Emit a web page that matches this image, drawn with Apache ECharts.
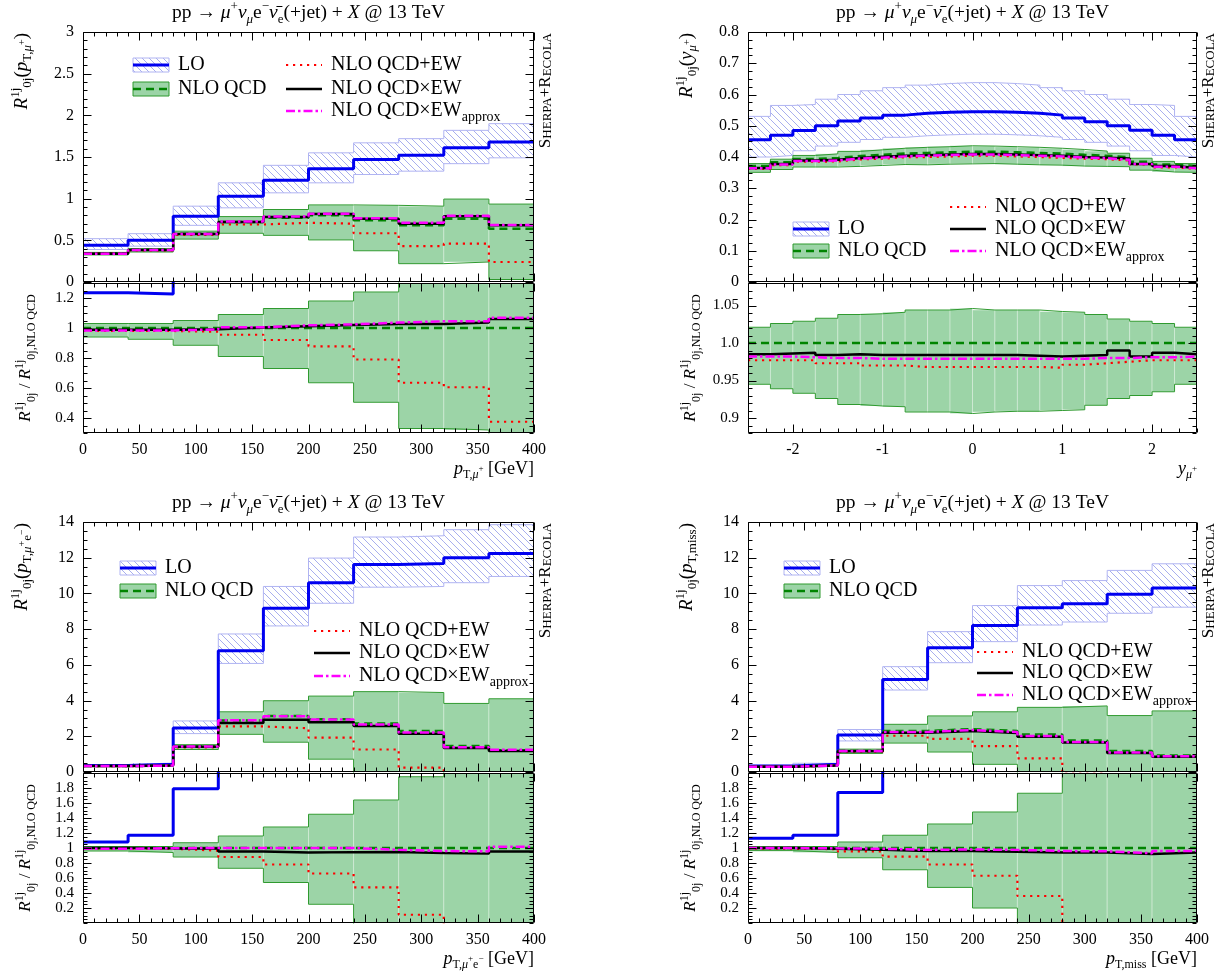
<!DOCTYPE html>
<html><head><meta charset="utf-8">
<script src="https://cdn.jsdelivr.net/npm/echarts@6/dist/echarts.min.js"></script>
<style>html,body{margin:0;padding:0;background:#fff}#c{width:1223px;height:979px}</style>
</head><body><div id="c"></div>
<script>
// ---------------- DATA ----------------
const ptEdges = [0, 40, 80, 120, 160, 200, 240, 280, 320, 360, 400];
const yEdges = [-2.5, -2.25, -2, -1.75, -1.5, -1.25, -1, -0.75, -0.5, -0.25, 0, 0.25, 0.5, 0.75, 1, 1.25, 1.5, 1.75, 2, 2.25, 2.5];

const ptTicks = [0, 50, 100, 150, 200, 250, 300, 350, 400];
const ptTickLabels = ['0', '50', '100', '150', '200', '250', '300', '350', '400'];
const yTicks = [-2, -1, 0, 1, 2];
const yTickLabels = ['-2', '-1', '0', '1', '2'];

const A_yTicks = [0, 0.5, 1, 1.5, 2, 2.5, 3];
const A_yLabels = ['0', '0.5', '1', '1.5', '2', '2.5', '3'];
const A_rTicks = [0.4, 0.6, 0.8, 1, 1.2];
const A_rLabels = ['0.4', '0.6', '0.8', '1', '1.2'];
const B_yTicks = [0, 0.1, 0.2, 0.3, 0.4, 0.5, 0.6, 0.7, 0.8];
const B_yLabels = ['0', '0.1', '0.2', '0.3', '0.4', '0.5', '0.6', '0.7', '0.8'];
const B_rTicks = [0.9, 0.95, 1.0, 1.05];
const B_rLabels = ['0.9', '0.95', '1.0', '1.05'];
const C_yTicks = [0, 2, 4, 6, 8, 10, 12, 14];
const C_yLabels = ['0', '2', '4', '6', '8', '10', '12', '14'];
const C_rTicks = [0.2, 0.4, 0.6, 0.8, 1, 1.2, 1.4, 1.6, 1.8];
const C_rLabels = ['0.2', '0.4', '0.6', '0.8', '1', '1.2', '1.4', '1.6', '1.8'];

// Panel A: p_T,mu+
const A_LO    = [0.44, 0.50, 0.79, 1.03, 1.22, 1.36, 1.47, 1.52, 1.61, 1.68];
const A_LO_up = [0.52, 0.58, 0.91, 1.19, 1.40, 1.55, 1.67, 1.72, 1.82, 1.90];
const A_LO_dn = [0.39, 0.43, 0.68, 0.89, 1.07, 1.19, 1.29, 1.33, 1.42, 1.49];
const A_NLO    = [0.345, 0.39, 0.58, 0.72, 0.77, 0.80, 0.74, 0.68, 0.76, 0.64];
const A_NLO_up = [0.355, 0.40, 0.61, 0.785, 0.87, 0.925, 0.92, 0.91, 0.995, 0.935];
const A_NLO_dn = [0.325, 0.36, 0.515, 0.585, 0.56, 0.505, 0.375, 0.22, 0.24, 0.03];
const A_ADD = [0.34, 0.38, 0.565, 0.69, 0.71, 0.70, 0.585, 0.43, 0.46, 0.24];
const A_MUL = [0.34, 0.385, 0.575, 0.72, 0.78, 0.815, 0.76, 0.70, 0.79, 0.68];
const A_APX = [0.34, 0.385, 0.575, 0.725, 0.785, 0.82, 0.765, 0.71, 0.795, 0.685];
const A_rLO = [1.235, 1.227, 1.36, 1.43, 1.58, 1.70, 1.99, 2.24, 2.12, 2.63];
const A_rNLO = [1, 1, 1, 1, 1, 1, 1, 1, 1, 1];
const A_rNLO_up = [1.03, 1.03, 1.05, 1.09, 1.13, 1.18, 1.24, 1.34, 1.32, 1.46];
const A_rNLO_dn = [0.94, 0.925, 0.885, 0.81, 0.73, 0.635, 0.505, 0.33, 0.32, 0.05];
const A_rADD = [0.98, 0.98, 0.975, 0.955, 0.92, 0.878, 0.79, 0.635, 0.605, 0.375];
const A_rMUL = [0.988, 0.988, 0.992, 1.003, 1.012, 1.02, 1.027, 1.027, 1.037, 1.06];
const A_rAPX = [0.983, 0.984, 0.99, 1.005, 1.018, 1.024, 1.036, 1.045, 1.045, 1.068];

// Panel B: y_mu+
const B_LO    = [0.455, 0.47, 0.485, 0.50, 0.515, 0.525, 0.534, 0.540, 0.543, 0.545, 0.545, 0.543, 0.540, 0.534, 0.525, 0.513, 0.50, 0.486, 0.47, 0.455];
const B_LO_up = [0.53, 0.565, 0.568, 0.585, 0.60, 0.612, 0.622, 0.63, 0.635, 0.638, 0.638, 0.635, 0.63, 0.622, 0.612, 0.60, 0.585, 0.568, 0.565, 0.53];
const B_LO_dn = [0.40, 0.405, 0.42, 0.435, 0.447, 0.456, 0.463, 0.468, 0.471, 0.473, 0.473, 0.471, 0.468, 0.463, 0.456, 0.447, 0.435, 0.42, 0.405, 0.40];
const B_NLO    = [0.371, 0.383, 0.394, 0.397, 0.403, 0.407, 0.411, 0.413, 0.415, 0.417, 0.417, 0.415, 0.413, 0.411, 0.407, 0.404, 0.399, 0.385, 0.376, 0.371];
const B_NLO_up = [0.379, 0.393, 0.405, 0.41, 0.418, 0.423, 0.428, 0.431, 0.433, 0.436, 0.435, 0.433, 0.431, 0.428, 0.424, 0.419, 0.412, 0.396, 0.386, 0.379];
const B_NLO_dn = [0.351, 0.36, 0.368, 0.368, 0.37, 0.373, 0.376, 0.375, 0.377, 0.378, 0.379, 0.377, 0.375, 0.374, 0.371, 0.37, 0.369, 0.358, 0.352, 0.351];
const B_ADD = [0.362, 0.374, 0.385, 0.386, 0.392, 0.395, 0.399, 0.40, 0.402, 0.404, 0.404, 0.402, 0.40, 0.397, 0.395, 0.393, 0.389, 0.376, 0.367, 0.362];
const B_MUL = [0.365, 0.378, 0.389, 0.391, 0.397, 0.401, 0.404, 0.406, 0.408, 0.41, 0.41, 0.408, 0.406, 0.404, 0.40, 0.398, 0.395, 0.378, 0.371, 0.365];
const B_APX = [0.364, 0.376, 0.387, 0.389, 0.395, 0.398, 0.402, 0.404, 0.406, 0.408, 0.408, 0.406, 0.404, 0.402, 0.398, 0.396, 0.391, 0.378, 0.369, 0.364];
const B_rLO = [1.226, 1.227, 1.231, 1.259, 1.278, 1.29, 1.299, 1.308, 1.308, 1.307, 1.307, 1.308, 1.307, 1.299, 1.29, 1.27, 1.253, 1.262, 1.25, 1.226];
const B_rNLO = [1, 1, 1, 1, 1, 1, 1, 1, 1, 1, 1, 1, 1, 1, 1, 1, 1, 1, 1, 1];
const B_rNLO_up = [1.021, 1.026, 1.029, 1.033, 1.038, 1.039, 1.041, 1.044, 1.044, 1.046, 1.044, 1.044, 1.044, 1.042, 1.041, 1.038, 1.032, 1.029, 1.026, 1.021];
const B_rNLO_dn = [0.945, 0.939, 0.933, 0.926, 0.918, 0.916, 0.915, 0.908, 0.908, 0.906, 0.908, 0.909, 0.909, 0.91, 0.911, 0.917, 0.926, 0.93, 0.935, 0.945];
const B_rADD = [0.977, 0.977, 0.977, 0.973, 0.973, 0.97, 0.97, 0.968, 0.968, 0.968, 0.968, 0.968, 0.968, 0.967, 0.971, 0.973, 0.975, 0.977, 0.977, 0.977];
const B_rMUL = [0.985, 0.986, 0.987, 0.984, 0.985, 0.984, 0.984, 0.984, 0.984, 0.984, 0.984, 0.984, 0.983, 0.982, 0.983, 0.984, 0.99, 0.982, 0.987, 0.985];
const B_rAPX = [0.982, 0.982, 0.981, 0.98, 0.98, 0.979, 0.979, 0.979, 0.979, 0.979, 0.979, 0.979, 0.979, 0.979, 0.979, 0.98, 0.98, 0.981, 0.981, 0.982];

// Panel C: p_T,mu+e-
const C_LO    = [0.37, 0.43, 2.47, 6.79, 9.17, 10.6, 11.62, 11.68, 12.0, 12.24];
const C_LO_up = [0.42, 0.50, 2.86, 7.73, 10.39, 11.98, 13.16, 13.23, 13.57, 13.85];
const C_LO_dn = [0.32, 0.37, 2.15, 6.08, 8.18, 9.45, 10.35, 10.39, 10.6, 10.95];
const C_NLO    = [0.33, 0.36, 1.43, 2.89, 3.13, 2.95, 2.72, 2.30, 1.45, 1.22];
const C_NLO_up = [0.34, 0.37, 1.53, 3.37, 3.99, 4.25, 4.50, 4.45, 3.84, 4.10];
const C_NLO_dn = [0.32, 0.34, 1.26, 2.11, 1.67, 0.72, -0.3, -1.0, -1.5, -1.4];
const C_ADD = [0.33, 0.355, 1.38, 2.55, 2.45, 1.93, 1.26, 0.24, -0.5, -0.6];
const C_MUL = [0.33, 0.36, 1.42, 2.75, 2.93, 2.78, 2.58, 2.14, 1.35, 1.17];
const C_APX = [0.33, 0.36, 1.43, 2.90, 3.12, 2.94, 2.66, 2.21, 1.39, 1.24];
const C_rLO = [1.08, 1.17, 1.79, 2.35, 2.93, 3.6, 4.27, 5.08, 8.3, 10.0];
const C_rNLO = [1, 1, 1, 1, 1, 1, 1, 1, 1, 1];
const C_rNLO_up = [1.02, 1.02, 1.07, 1.16, 1.28, 1.45, 1.64, 1.95, 2.65, 3.35];
const C_rNLO_dn = [0.96, 0.94, 0.88, 0.73, 0.54, 0.25, -0.1, -0.45, -1.0, -1.2];
const C_rADD = [0.995, 0.99, 0.965, 0.88, 0.78, 0.66, 0.475, 0.11, -0.35, -0.5];
const C_rMUL = [1.0, 0.995, 0.995, 0.952, 0.94, 0.945, 0.948, 0.933, 0.925, 0.955];
const C_rAPX = [0.99, 0.997, 1.0, 1.0, 1.0, 1.0, 0.975, 0.96, 0.955, 1.018];

// Panel D: p_T,miss
const D_LO    = [0.33, 0.43, 2.07, 5.18, 6.96, 8.20, 9.20, 9.42, 9.95, 10.30];
const D_LO_up = [0.37, 0.49, 2.38, 5.90, 7.86, 9.32, 10.44, 10.72, 11.29, 11.66];
const D_LO_dn = [0.29, 0.37, 1.74, 4.59, 6.12, 7.30, 8.23, 8.40, 8.89, 9.23];
const D_NLO    = [0.30, 0.37, 1.19, 2.30, 2.40, 2.30, 2.10, 1.76, 1.17, 0.92];
const D_NLO_up = [0.31, 0.38, 1.28, 2.67, 3.14, 3.37, 3.62, 3.70, 3.16, 3.42];
const D_NLO_dn = [0.29, 0.35, 1.04, 1.62, 1.12, 0.43, -0.4, -1.0, -1.3, -1.2];
const D_ADD = [0.30, 0.365, 1.14, 2.03, 1.86, 1.45, 0.76, -0.1, -0.4, -0.5];
const D_MUL = [0.30, 0.365, 1.16, 2.20, 2.30, 2.19, 1.97, 1.65, 1.07, 0.86];
const D_APX = [0.30, 0.368, 1.17, 2.24, 2.35, 2.24, 2.02, 1.68, 1.09, 0.88];
const D_rLO = [1.13, 1.17, 1.74, 2.25, 2.9, 3.56, 4.4, 5.35, 8.5, 11.2];
const D_rNLO = [1, 1, 1, 1, 1, 1, 1, 1, 1, 1];
const D_rNLO_up = [1.02, 1.02, 1.08, 1.17, 1.32, 1.48, 1.73, 2.12, 2.7, 3.7];
const D_rNLO_dn = [0.965, 0.94, 0.87, 0.71, 0.475, 0.2, -0.2, -0.55, -1.1, -1.3];
const D_rADD = [0.99, 0.985, 0.955, 0.885, 0.78, 0.63, 0.36, -0.06, -0.35, -0.55];
const D_rMUL = [1.0, 0.99, 0.975, 0.96, 0.96, 0.95, 0.94, 0.94, 0.92, 0.94];
const D_rAPX = [1.0, 0.995, 0.99, 0.975, 0.98, 0.975, 0.96, 0.955, 0.93, 0.96];

// ---------------- STYLE ----------------
const FONT = '"Liberation Serif","DejaVu Serif",serif';
const COL_LO = '#0000f0', COL_LO_EDGE = '#b0b4f2', COL_HATCH = '#a8aeee';
const COL_GFILL = 'rgba(8,148,35,0.40)', COL_GEDGE = '#2f9a2f', COL_NLO = '#008400';
const COL_ADD = '#ff0000', COL_MUL = '#000000', COL_APX = '#ff00ff';
const ST = {
  LO:  {color: COL_LO, width: 3},
  NLO: {color: COL_NLO, width: 2.5, type: [8, 5]},
  ADD: {color: COL_ADD, width: 2.2, type: [2.2, 4.8]},
  MUL: {color: COL_MUL, width: 2.5},
  APX: {color: COL_APX, width: 2.5, type: [9, 3, 2.5, 3]}
};

const hatchCanvas = (function () {
  const s = 7, c = document.createElement('canvas');
  c.width = s; c.height = s;
  const g = c.getContext('2d');
  g.strokeStyle = COL_HATCH; g.lineWidth = 1;
  g.beginPath();
  g.moveTo(0, 0); g.lineTo(s, s);
  g.moveTo(-1, s - 1); g.lineTo(1, s + 1);
  g.moveTo(s - 1, -1); g.lineTo(s + 1, 1);
  g.stroke();
  return c;
})();
const hatchFill = {image: hatchCanvas, repeat: 'repeat'};

function rich(fs) {
  const s = Math.round(fs * 0.68), ss = Math.round(fs * 0.52);
  return {
    n: {fontFamily: FONT, fontSize: fs, fill: '#000'},
    i: {fontFamily: FONT, fontSize: fs, fontStyle: 'italic', fill: '#000'},
    sup: {fontFamily: FONT, fontSize: s, verticalAlign: 'top', lineHeight: s, fill: '#000'},
    sub: {fontFamily: FONT, fontSize: s, verticalAlign: 'bottom', lineHeight: s, fill: '#000'},
    isub: {fontFamily: FONT, fontSize: s, fontStyle: 'italic', verticalAlign: 'bottom', lineHeight: s, fill: '#000'},
    ssup: {fontFamily: FONT, fontSize: ss, verticalAlign: 'middle', fill: '#000'},
    b: {fontFamily: FONT, fontSize: 17, verticalAlign: 'bottom', lineHeight: 17, fill: '#000'},
    s: {fontFamily: FONT, fontSize: 13, verticalAlign: 'bottom', lineHeight: 13, fill: '#000'}
  };
}

// ---------------- PANELS ----------------
const panels = [
  {left: 83, width: 451, mainTop: 32, ratioTop: 283, edges: ptEdges, xmin: 0, xmax: 400, xTicks: ptTicks, xLabels: ptTickLabels, xMinor: 10,
   mY: {min: 0, max: 3, ticks: A_yTicks, labels: A_yLabels, minor: 0.1},
   rY: {min: 0.3, max: 1.3, ticks: A_rTicks, labels: A_rLabels, minor: 0.05},
   m: {LO: A_LO, LOup: A_LO_up, LOdn: A_LO_dn, NLO: A_NLO, NLOup: A_NLO_up, NLOdn: A_NLO_dn, ADD: A_ADD, MUL: A_MUL, APX: A_APX},
   r: {LO: A_rLO, NLO: A_rNLO, NLOup: A_rNLO_up, NLOdn: A_rNLO_dn, ADD: A_rADD, MUL: A_rMUL, APX: A_rAPX},
   yName: '{i|R}{sup|1j}{sub|0j}{n|(}{i|p}{sub|T,}{isub|μ}{ssup|+}{n|)}',
   xName: '{i|p}{sub|T,}{isub|μ}{ssup|+}{n| [GeV]}',
   legend: [['lo', 133, 65, 'LO'], ['nlo', 133, 89, 'NLO QCD'], ['add', 286, 65, 'NLO QCD+EW'], ['mul', 286, 89, 'NLO QCD×EW'], ['apx', 286, 111, 'NLO QCD×EW{sub|approx}']]},
  {left: 748, width: 449, mainTop: 32, ratioTop: 283, edges: yEdges, xmin: -2.5, xmax: 2.5, xTicks: yTicks, xLabels: yTickLabels, xMinor: 0.2,
   mY: {min: 0, max: 0.8, ticks: B_yTicks, labels: B_yLabels, minor: 0.025},
   rY: {min: 0.88, max: 1.08, ticks: B_rTicks, labels: B_rLabels, minor: 0.01},
   m: {LO: B_LO, LOup: B_LO_up, LOdn: B_LO_dn, NLO: B_NLO, NLOup: B_NLO_up, NLOdn: B_NLO_dn, ADD: B_ADD, MUL: B_MUL, APX: B_APX},
   r: {LO: B_rLO, NLO: B_rNLO, NLOup: B_rNLO_up, NLOdn: B_rNLO_dn, ADD: B_rADD, MUL: B_rMUL, APX: B_rAPX},
   yName: '{i|R}{sup|1j}{sub|0j}{n|(}{i|y}{isub|μ}{ssup|+}{n|)}',
   xName: '{i|y}{isub|μ}{ssup|+}',
   legend: [['lo', 793, 229, 'LO'], ['nlo', 793, 251, 'NLO QCD'], ['add', 950, 207, 'NLO QCD+EW'], ['mul', 950, 229, 'NLO QCD×EW'], ['apx', 950, 251, 'NLO QCD×EW{sub|approx}']]},
  {left: 83, width: 451, mainTop: 522, ratioTop: 773, edges: ptEdges, xmin: 0, xmax: 400, xTicks: ptTicks, xLabels: ptTickLabels, xMinor: 10,
   mY: {min: 0, max: 14, ticks: C_yTicks, labels: C_yLabels, minor: 0.5},
   rY: {min: 0, max: 2, ticks: C_rTicks, labels: C_rLabels, minor: 0.05},
   m: {LO: C_LO, LOup: C_LO_up, LOdn: C_LO_dn, NLO: C_NLO, NLOup: C_NLO_up, NLOdn: C_NLO_dn, ADD: C_ADD, MUL: C_MUL, APX: C_APX},
   r: {LO: C_rLO, NLO: C_rNLO, NLOup: C_rNLO_up, NLOdn: C_rNLO_dn, ADD: C_rADD, MUL: C_rMUL, APX: C_rAPX},
   yName: '{i|R}{sup|1j}{sub|0j}{n|(}{i|p}{sub|T,}{isub|μ}{ssup|+}{sub|e}{ssup|−}{n|)}',
   xName: '{i|p}{sub|T,}{isub|μ}{ssup|+}{sub|e}{ssup|−}{n| [GeV]}',
   legend: [['lo', 120, 568, 'LO'], ['nlo', 120, 591, 'NLO QCD'], ['add', 314, 631, 'NLO QCD+EW'], ['mul', 314, 653, 'NLO QCD×EW'], ['apx', 314, 676, 'NLO QCD×EW{sub|approx}']]},
  {left: 748, width: 449, mainTop: 522, ratioTop: 773, edges: ptEdges, xmin: 0, xmax: 400, xTicks: ptTicks, xLabels: ptTickLabels, xMinor: 10,
   mY: {min: 0, max: 14, ticks: C_yTicks, labels: C_yLabels, minor: 0.5},
   rY: {min: 0, max: 2, ticks: C_rTicks, labels: C_rLabels, minor: 0.05},
   m: {LO: D_LO, LOup: D_LO_up, LOdn: D_LO_dn, NLO: D_NLO, NLOup: D_NLO_up, NLOdn: D_NLO_dn, ADD: D_ADD, MUL: D_MUL, APX: D_APX},
   r: {LO: D_rLO, NLO: D_rNLO, NLOup: D_rNLO_up, NLOdn: D_rNLO_dn, ADD: D_rADD, MUL: D_rMUL, APX: D_rAPX},
   yName: '{i|R}{sup|1j}{sub|0j}{n|(}{i|p}{sub|T,miss}{n|)}',
   xName: '{i|p}{sub|T,miss}{n| [GeV]}',
   legend: [['lo', 784, 568, 'LO'], ['nlo', 784, 591, 'NLO QCD'], ['add', 977, 652, 'NLO QCD+EW'], ['mul', 977, 673, 'NLO QCD×EW'], ['apx', 977, 695, 'NLO QCD×EW{sub|approx}']]}
];
const MAIN_H = 250, RATIO_H = 150;

// ---------------- BUILD ----------------
const grids = [], xAxes = [], yAxes = [], series = [], graphics = [];

function minorList(min, max, step, major) {
  const out = [], n = Math.round((max - min) / step);
  for (let i = 0; i <= n; i++) {
    const v = +(min + i * step).toFixed(6);
    if (!major.some(m => Math.abs(m - v) < 1e-9)) out.push(v);
  }
  return out;
}

function addAxis(dim, gi, min, max, major, labels, showLabels, fs) {
  const fmt = function (v) {
    const i = major.findIndex(t => Math.abs(t - v) < 1e-9);
    return i >= 0 ? labels[i] : '';
  };
  const arr = dim === 'x' ? xAxes : yAxes;
  arr.push({
    gridIndex: gi, type: 'value', min: min, max: max, position: dim === 'x' ? 'bottom' : 'left', silent: true,
    splitLine: {show: false},
    axisLine: {show: false, onZero: false},
    axisTick: {show: false},
    axisLabel: {show: showLabels, customValues: major, formatter: fmt, color: '#000',
      fontFamily: FONT, fontSize: fs, margin: 9, hideOverlap: false, showMinLabel: true, showMaxLabel: true}
  });
  return arr.length - 1;
}

// frame + inward ticks on all four sides, placed through the axes' own scales
function frameSeries(xi, yi, xmin, ymin, xMaj, xMin, yMaj, yMin) {
  return {
    type: 'custom', xAxisIndex: xi, yAxisIndex: yi, z: 20, silent: true, animation: false, clip: false,
    data: [[xmin, ymin]], encode: {x: 0, y: 1},
    renderItem: function (params, api) {
      const cs = params.coordSys;
      const L = Math.round(cs.x) + 0.5, R = Math.round(cs.x + cs.width) - 0.5;
      const T = Math.round(cs.y) + 0.5, B = Math.round(cs.y + cs.height) - 0.5;
      const ch = [];
      const seg = function (x1, y1, x2, y2) {
        ch.push({type: 'line', shape: {x1: x1, y1: y1, x2: x2, y2: y2}, style: {stroke: '#000', lineWidth: 1}});
      };
      const xt = function (v, len) { const p = Math.round(api.coord([v, ymin])[0]) + 0.5; seg(p, B, p, B - len); seg(p, T, p, T + len); };
      const yt = function (v, len) { const p = Math.round(api.coord([xmin, v])[1]) + 0.5; seg(L, p, L + len, p); seg(R, p, R - len, p); };
      xMaj.forEach(v => xt(v, 8)); xMin.forEach(v => xt(v, 4));
      yMaj.forEach(v => yt(v, 8)); yMin.forEach(v => yt(v, 4));
      ch.push({type: 'rect', shape: {x: L, y: T, width: R - L, height: B - T}, style: {fill: null, stroke: '#000', lineWidth: 1}});
      return {type: 'group', children: ch};
    }
  };
}

function band(xi, yi, edges, lo, hi, fill, stroke, z) {
  const data = lo.map((l, i) => [edges[i], edges[i + 1], l, hi[i]]);
  return {
    type: 'custom', xAxisIndex: xi, yAxisIndex: yi, z: z, silent: true, animation: false,
    data: data, encode: {x: [0, 1], y: [2, 3]},
    renderItem: function (params, api) {
      const cs = params.coordSys;
      const a = api.coord([api.value(0), api.value(3)]);
      const b = api.coord([api.value(1), api.value(2)]);
      const top = Math.max(cs.y, Math.min(a[1], b[1]));
      const bot = Math.min(cs.y + cs.height, Math.max(a[1], b[1]));
      if (bot <= top) return null;
      return {type: 'rect', shape: {x: a[0], y: top, width: b[0] - a[0], height: bot - top},
        style: {fill: fill, stroke: stroke, lineWidth: 1}};
    }
  };
}

function step(xi, yi, edges, vals, ls, z) {
  const data = vals.map((v, i) => [edges[i], v]);
  data.push([edges[edges.length - 1], vals[vals.length - 1]]);
  return {type: 'line', xAxisIndex: xi, yAxisIndex: yi, step: 'end', data: data, symbol: 'none', showSymbol: false,
    lineStyle: ls, z: z, silent: true, animation: false, clip: true};
}

function text(x, y, str, fs, extra) {
  graphics.push(Object.assign({type: 'text', x: x, y: y, silent: true, z: 100,
    style: Object.assign({text: str, fill: '#000', fontFamily: FONT, fontSize: fs, align: 'left', verticalAlign: 'middle',
      lineHeight: Math.round(fs * 1.3), rich: rich(fs)}, extra.style || {})}, extra.el || {}));
}

function legendSample(kind, x, cy) {
  const w = 36;
  if (kind === 'lo') {
    graphics.push({type: 'rect', silent: true, z: 100, shape: {x: x, y: cy - 7, width: w, height: 14}, style: {fill: hatchFill, stroke: COL_LO_EDGE, lineWidth: 1}});
    graphics.push({type: 'line', silent: true, z: 101, shape: {x1: x, y1: cy, x2: x + w, y2: cy}, style: {stroke: COL_LO, lineWidth: 3}});
  } else if (kind === 'nlo') {
    graphics.push({type: 'rect', silent: true, z: 100, shape: {x: x, y: cy - 7, width: w, height: 14}, style: {fill: COL_GFILL, stroke: COL_GEDGE, lineWidth: 1}});
    graphics.push({type: 'line', silent: true, z: 101, shape: {x1: x, y1: cy, x2: x + w, y2: cy}, style: {stroke: COL_NLO, lineWidth: 2.5, lineDash: [8, 5]}});
  } else {
    const s = kind === 'add' ? ST.ADD : kind === 'mul' ? ST.MUL : ST.APX;
    graphics.push({type: 'line', silent: true, z: 101, shape: {x1: x, y1: cy, x2: x + w, y2: cy},
      style: {stroke: s.color, lineWidth: s.width, lineDash: s.type || null}});
  }
}

const TITLE = '{n|pp → }{i|μ}{sup|+}{i|ν}{isub|μ}{n|e}{sup|−}{i|ν̄}{sub|e}{n|(+jet) + }{i|X}{n| @ 13 TeV}';
const RATIO_NAME = '{i|R}{sup|1j}{sub|0j}{n| / }{i|R}{sup|1j}{sub|0j,NLO QCD}';
const SHERPA = '{b|S}{s|HERPA}{b|+R}{s|ECOLA}';

panels.forEach(function (P) {
  const gm = grids.length;
  grids.push({left: P.left, top: P.mainTop, width: P.width, height: MAIN_H, outerBoundsMode: 'none', containLabel: false});
  const gr = grids.length;
  grids.push({left: P.left, top: P.ratioTop, width: P.width, height: RATIO_H, outerBoundsMode: 'none', containLabel: false});

  const xm = addAxis('x', gm, P.xmin, P.xmax, P.xTicks, P.xLabels, false, 16);
  const ym = addAxis('y', gm, P.mY.min, P.mY.max, P.mY.ticks, P.mY.labels, true, 16);
  const xr = addAxis('x', gr, P.xmin, P.xmax, P.xTicks, P.xLabels, true, 16);
  const yr = addAxis('y', gr, P.rY.min, P.rY.max, P.rY.ticks, P.rY.labels, true, 15);

  const xMinor = minorList(P.xmin, P.xmax, P.xMinor, P.xTicks);
  series.push(frameSeries(xm, ym, P.xmin, P.mY.min, P.xTicks, xMinor, P.mY.ticks, minorList(P.mY.min, P.mY.max, P.mY.minor, P.mY.ticks)));
  series.push(frameSeries(xr, yr, P.xmin, P.rY.min, P.xTicks, xMinor, P.rY.ticks, minorList(P.rY.min, P.rY.max, P.rY.minor, P.rY.ticks)));

  const E = P.edges, m = P.m, r = P.r;
  series.push(band(xm, ym, E, m.LOdn, m.LOup, hatchFill, null, 1));
  series.push(step(xm, ym, E, m.LOup, {color: COL_LO_EDGE, width: 1}, 2));
  series.push(step(xm, ym, E, m.LOdn, {color: COL_LO_EDGE, width: 1}, 2));
  series.push(band(xm, ym, E, m.NLOdn, m.NLOup, COL_GFILL, 'rgba(255,255,255,0.35)', 3));
  series.push(step(xm, ym, E, m.NLOup, {color: COL_GEDGE, width: 1}, 4));
  series.push(step(xm, ym, E, m.NLOdn, {color: COL_GEDGE, width: 1}, 4));
  series.push(step(xm, ym, E, m.LO, ST.LO, 5));
  series.push(step(xm, ym, E, m.NLO, ST.NLO, 6));
  series.push(step(xm, ym, E, m.ADD, ST.ADD, 7));
  series.push(step(xm, ym, E, m.MUL, ST.MUL, 8));
  series.push(step(xm, ym, E, m.APX, ST.APX, 9));
  series.push(band(xr, yr, E, r.NLOdn, r.NLOup, COL_GFILL, 'rgba(255,255,255,0.35)', 3));
  series.push(step(xr, yr, E, r.NLOup, {color: COL_GEDGE, width: 1}, 4));
  series.push(step(xr, yr, E, r.NLOdn, {color: COL_GEDGE, width: 1}, 4));
  series.push(step(xr, yr, E, r.LO, ST.LO, 5));
  series.push(step(xr, yr, E, r.NLO, ST.NLO, 6));
  series.push(step(xr, yr, E, r.ADD, ST.ADD, 7));
  series.push(step(xr, yr, E, r.MUL, ST.MUL, 8));
  series.push(step(xr, yr, E, r.APX, ST.APX, 9));

  text(P.left + P.width / 2, P.mainTop - 19, TITLE, 19.5, {style: {align: 'center', lineHeight: 26}});
  text(P.left - 61, P.mainTop + 1, P.yName, 19, {style: {align: 'right', lineHeight: 25}, el: {rotation: Math.PI / 2}});
  text(P.left - 57, P.ratioTop + RATIO_H / 2, RATIO_NAME, 17, {style: {align: 'center', lineHeight: 24}, el: {rotation: Math.PI / 2}});
  text(P.left + P.width + 12, P.mainTop + 1, SHERPA, 17, {style: {align: 'right', lineHeight: 18}, el: {rotation: Math.PI / 2}});
  text(P.left + P.width, P.ratioTop + RATIO_H + 36, P.xName, 18, {style: {align: 'right', lineHeight: 24}});

  P.legend.forEach(function (L) {
    legendSample(L[0], L[1], L[2]);
    text(L[1] + 45, L[2], L[3], 20, {style: {lineHeight: 26}});
  });
});

const chart = echarts.init(document.getElementById('c'), null, {renderer: 'canvas'});
chart.setOption({
  animation: false,
  backgroundColor: '#fff',
  grid: grids,
  xAxis: xAxes,
  yAxis: yAxes,
  series: series,
  graphic: {elements: graphics}
});
</script></body></html>
